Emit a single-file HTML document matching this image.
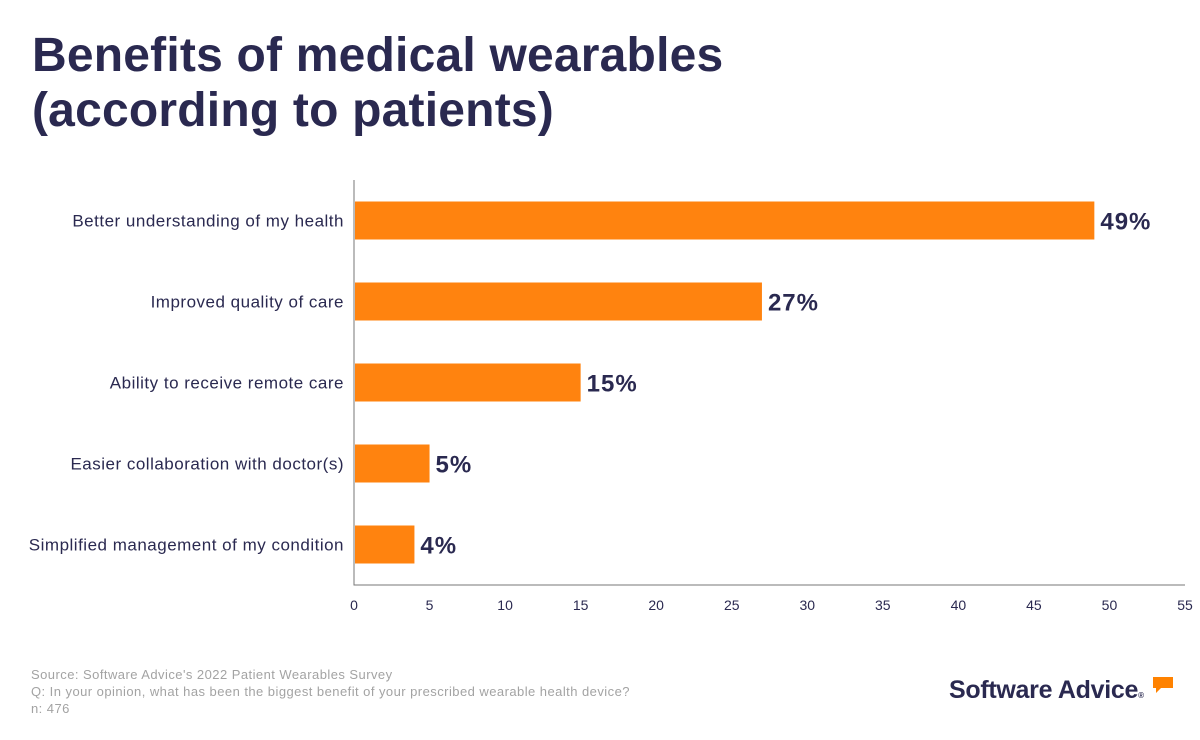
<!DOCTYPE html>
<html><head><meta charset="utf-8"><style>
body{margin:0;width:1200px;height:740px;background:#fff;font-family:"Liberation Sans",sans-serif;overflow:hidden;position:relative}
h1{position:absolute;left:32px;top:28px;margin:0;font-size:48px;line-height:55px;font-weight:bold;color:#2a2950;letter-spacing:0.2px}
.foot{position:absolute;left:31px;top:666px;font-size:13px;line-height:17px;color:#a3a3a3;letter-spacing:0.45px}
.logo{position:absolute;left:949px;top:676px;font-size:25px;font-weight:bold;color:#2a2950;letter-spacing:-0.3px}
</style></head><body>
<h1>Benefits of medical wearables<br>(according to patients)</h1>
<svg id="c" width="1200" height="740" style="position:absolute;left:0;top:0"></svg>
<div class="foot">Source: Software Advice's 2022 Patient Wearables Survey<br>Q: In your opinion, what has been the biggest benefit of your prescribed wearable health device?<br>n: 476</div>
<div class="logo">Software Advice<span style="font-size:8px">®</span></div>
<svg style="position:absolute;left:1152px;top:676px" width="22" height="20"><path d="M1 1H21V12H9L4 17V12H1Z" fill="#ff8200"/></svg>
<script>
const categories=["Better understanding of my health","Improved quality of care","Ability to receive remote care","Easier collaboration with doctor(s)","Simplified management of my condition"];
const values=[49,27,15,5,4];
const ticks=[0,5,10,15,20,25,30,35,40,45,50,55];
const svg=document.getElementById('c');const NS='http://www.w3.org/2000/svg';
const x0=354,x1=1185,xmax=55,top0=180,bottom=585;
const xs=v=>x0+v/xmax*(x1-x0);
const band=(bottom-top0)/categories.length;
const yc=i=>top0+band*(i+0.5);
function mk(t,a,txt){const e=document.createElementNS(NS,t);for(const k in a)e.setAttribute(k,a[k]);if(txt!==undefined)e.textContent=txt;svg.appendChild(e);return e;}
let ax=mk('path',{d:`M${x0} ${top0}V${bottom}H${x1}`,stroke:'#777',fill:'none','stroke-width':1});


ticks.forEach(t=>{const e=mk('text',{x:xs(t),y:610,'text-anchor':'middle','font-size':14,fill:'#2a2950'},t);

});
categories.forEach((c,i)=>{const y=yc(i),h=38;
const r=mk('rect',{x:x0+1,y:y-h/2,width:xs(values[i])-x0-1,height:h,fill:'#ff830f'});


const l=mk('text',{x:344,y:y+6,'text-anchor':'end','font-size':17,'letter-spacing':0.5,fill:'#2a2950'},c);


const v=mk('text',{x:xs(values[i])+6,y:y+9,'font-size':24,'letter-spacing':1,'font-weight':'bold',fill:'#2a2950'},values[i]+'%');

});
</script>
</body></html>
